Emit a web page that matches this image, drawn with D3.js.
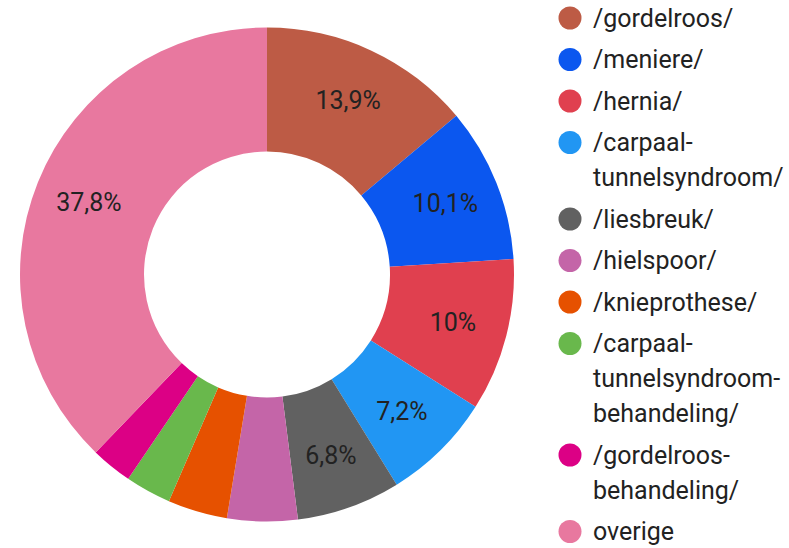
<!DOCTYPE html>
<html>
<head>
<meta charset="utf-8">
<script src="https://cdn.jsdelivr.net/npm/d3@7"></script>
<style>
	body { margin: 0; background: #fff; }
	svg { display: block; font-family: Roboto, "Noto Sans", sans-serif; }
</style>
</head>
<body>
<script>
(function() {

	var categories = ['/gordelroos/', '/meniere/', '/hernia/', '/carpaal-tunnelsyndroom/', '/liesbreuk/',
		'/hielspoor/', '/knieprothese/', '/carpaal-tunnelsyndroom-behandeling/', '/gordelroos-behandeling/', 'overige'];
	var values = [13.9, 10.1, 10, 7.2, 6.8, 4.6, 3.9, 3.0, 2.7, 37.8];
	var valueLabels = ['13,9%', '10,1%', '10%', '7,2%', '6,8%', '', '', '', '', '37,8%'];
	var legendLines = [
		['/gordelroos/'],
		['/meniere/'],
		['/hernia/'],
		['/carpaal-', 'tunnelsyndroom/'],
		['/liesbreuk/'],
		['/hielspoor/'],
		['/knieprothese/'],
		['/carpaal-', 'tunnelsyndroom-', 'behandeling/'],
		['/gordelroos-', 'behandeling/'],
		['overige']
	];
	var colors = ['#bd5b45', '#0b57ef', '#e0404f', '#2196f3', '#616161',
		'#c465a8', '#e65100', '#69b84c', '#dc0085', '#e8789f'];

	var width = 789, height = 548;
	var cx = 267, cy = 274.5;
	var outerR = 247, innerR = 123, labelR = 192;

	var svg = d3.select('body').append('svg')
		.attr('width', width)
		.attr('height', height);

	var color = d3.scaleOrdinal().domain(categories).range(colors);

	var pie = d3.pie().sort(null).value(function(d) { return d; });
	var arcs = pie(values);

	var arc = d3.arc().innerRadius(innerR).outerRadius(outerR);
	var labelArc = d3.arc().innerRadius(labelR).outerRadius(labelR);

	var g = svg.append('g').attr('transform', 'translate(' + cx + ',' + cy + ')');

	g.selectAll('path.slice')
		.data(arcs)
		.enter()
		.append('path')
		.attr('class', 'slice')
		.attr('d', arc)
		.attr('fill', function(d, i) { return color(categories[i]); });

	g.selectAll('text.pct')
		.data(arcs)
		.enter()
		.append('text')
		.attr('class', 'pct')
		.attr('transform', function(d) { return 'translate(' + labelArc.centroid(d) + ')'; })
		.attr('text-anchor', 'middle')
		.attr('dy', '0.35em')
		.style('font-size', '25px')
		.style('fill', '#222')
		.text(function(d, i) { return valueLabels[i]; });

	// Legend
	var legendX = 570, textX = 593;
	var lineH = 35, step = 41.5;
	var y = 18;
	var legend = svg.append('g');
	legendLines.forEach(function(lines, i) {
		var item = legend.append('g');
		item.append('circle')
			.attr('cx', legendX)
			.attr('cy', y)
			.attr('r', 11.5)
			.attr('fill', color(categories[i]));
		lines.forEach(function(line, j) {
			item.append('text')
				.attr('x', textX)
				.attr('y', y + j * lineH)
				.attr('dy', '0.35em')
				.style('font-size', '25px')
				.style('fill', '#222')
				.text(line);
		});
		y += (lines.length - 1) * lineH + step;
	});

})();
</script>
</body>
</html>
